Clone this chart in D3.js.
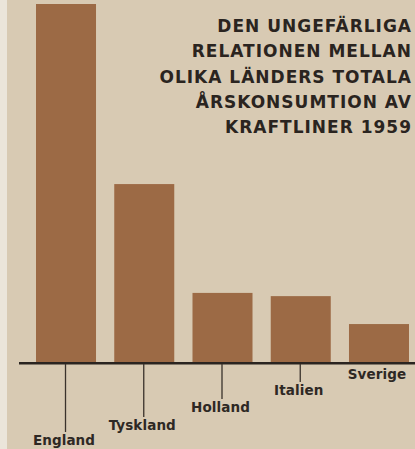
<!DOCTYPE html>
<html>
<head>
<meta charset="utf-8">
<script src="https://cdn.jsdelivr.net/npm/d3@7"></script>
<style>
  html, body { margin: 0; padding: 0; background: #d8cab3; }
  svg { display: block; }
</style>
</head>
<body>
<div id="plot_area"></div>
<script>
// data (relative yearly consumption, England = 100)
var countries = ["England", "Tyskland", "Holland", "Italien", "Sverige"];
var values = [100, 49.7, 19.3, 18.4, 10.6];
var titleLines = ["DEN UNGEFÄRLIGA", "RELATIONEN MELLAN", "OLIKA LÄNDERS TOTALA", "ÅRSKONSUMTION AV", "KRAFTLINER 1959"];

// staggered label baselines below the axis
var labelY = [445, 430, 412, 395, 379];

var width = 415, height = 449;
var baseY = 362;

var svg = d3.select("#plot_area")
  .append("svg")
    .attr("width", width)
    .attr("height", height);

// paper background + light strip on the left edge
svg.append("rect")
  .attr("width", width).attr("height", height)
  .attr("fill", "#d8cab3");
svg.append("rect")
  .attr("width", 7).attr("height", height)
  .attr("fill", "#ebe5da");

var x = d3.scaleBand()
  .domain(countries)
  .range([36, 409])
  .paddingInner(0.233)
  .paddingOuter(0);

var y = d3.scaleLinear()
  .domain([0, 100])
  .range([baseY, 4]);

// bars
svg.selectAll(".bar")
  .data(countries)
  .enter()
  .append("rect")
    .attr("class", "bar")
    .attr("x", function(d) { return x(d); })
    .attr("width", x.bandwidth())
    .attr("y", function(d, i) { return y(values[i]); })
    .attr("height", function(d, i) { return baseY - y(values[i]); })
    .attr("fill", "#9c6a45");

// baseline
svg.append("line")
  .attr("x1", 19).attr("x2", width)
  .attr("y1", baseY + 1.2).attr("y2", baseY + 1.2)
  .attr("stroke", "#2a2420")
  .attr("stroke-width", 2.4);

// tick lines down to labels (Sverige has none)
svg.selectAll(".tick")
  .data(countries.filter(function(d, i) { return labelY[i] - 13 > baseY + 6; }))
  .enter()
  .append("line")
    .attr("class", "tick")
    .attr("x1", function(d) { return x(d) + x.bandwidth() / 2 - 0.5; })
    .attr("x2", function(d) { return x(d) + x.bandwidth() / 2 - 0.5; })
    .attr("y1", baseY + 2)
    .attr("y2", function(d) { return labelY[countries.indexOf(d)] - 13; })
    .attr("stroke", "#3a322c")
    .attr("stroke-width", 1.3);

// country labels
svg.selectAll(".lab")
  .data(countries)
  .enter()
  .append("text")
    .attr("class", "lab")
    .attr("x", function(d) { return x(d) + x.bandwidth() / 2 - 2; })
    .attr("y", function(d, i) { return labelY[i]; })
    .attr("text-anchor", "middle")
    .style("font-family", "'DejaVu Sans', sans-serif")
    .style("font-weight", "bold")
    .style("font-size", "13.5px")
    .style("letter-spacing", "0.1px")
    .attr("fill", "#2e2824")
    .text(function(d) { return d; });

// title block, right aligned
svg.selectAll(".title")
  .data(titleLines)
  .enter()
  .append("text")
    .attr("class", "title")
    .attr("x", 412)
    .attr("y", function(d, i) { return 31.7 + i * 25.4; })
    .attr("text-anchor", "end")
    .style("font-family", "'DejaVu Sans', sans-serif")
    .style("font-weight", "bold")
    .style("font-size", "17px")
    .style("letter-spacing", "1px")
    .attr("fill", "#2a2420")
    .text(function(d) { return d; });
</script>
</body>
</html>
